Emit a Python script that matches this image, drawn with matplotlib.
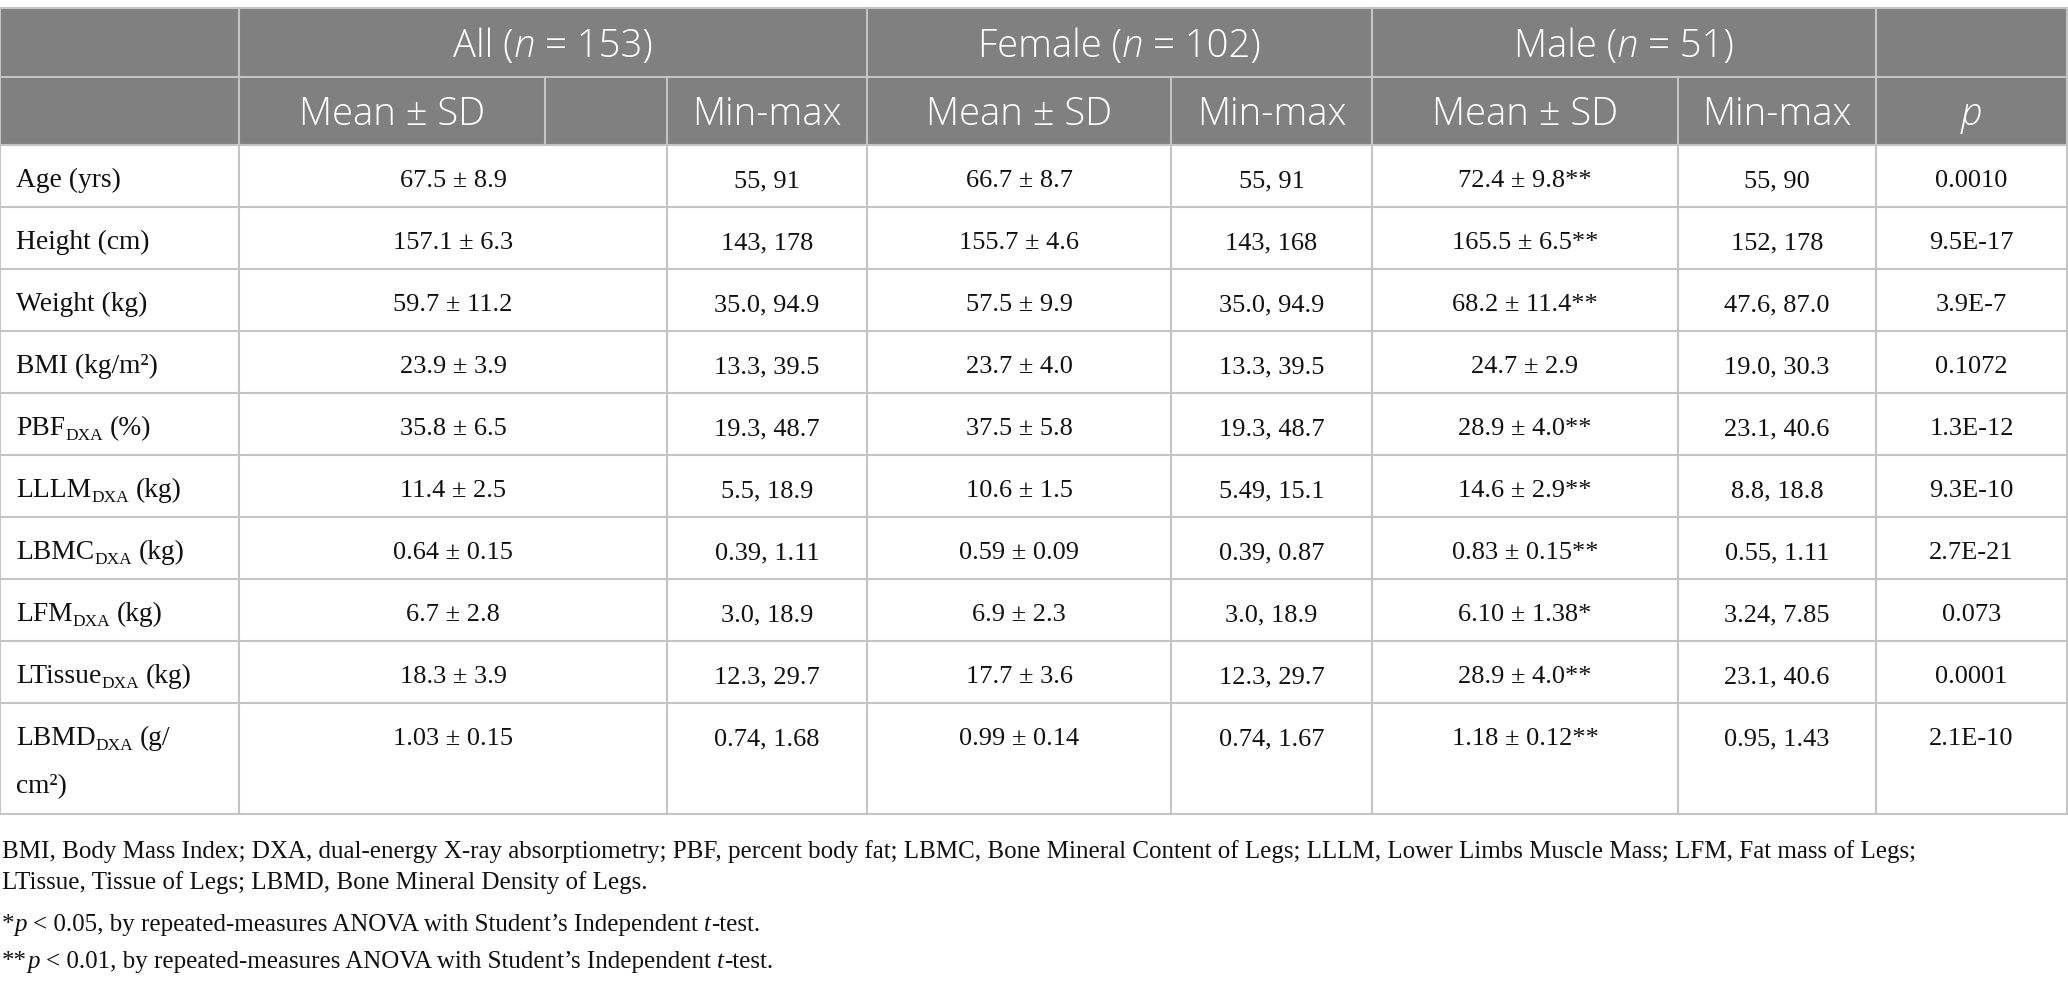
import matplotlib
matplotlib.use("Agg")
import matplotlib.pyplot as plt
from matplotlib.patches import Rectangle
from matplotlib.font_manager import FontProperties

W, H = 2068, 986

# ---------------- table content ----------------
groups = ["All", "Female", "Male"]
group_n = ["153", "102", "51"]
sub_heads = ["Mean ± SD", "Min-max"]

row_names = ["Age (yrs)", "Height (cm)", "Weight (kg)", "BMI (kg/m²)", "PBF",
             "LLLM", "LBMC", "LFM", "LTissue", "LBMD"]
row_subs = ["", "", "", "", "DXA", "DXA", "DXA", "DXA", "DXA", "DXA"]
row_units = ["", "", "", "", "(%)", "(kg)", "(kg)", "(kg)", "(kg)", "(g/\ncm²)"]

all_mean = ["67.5 ± 8.9", "157.1 ± 6.3", "59.7 ± 11.2", "23.9 ± 3.9", "35.8 ± 6.5",
            "11.4 ± 2.5", "0.64 ± 0.15", "6.7 ± 2.8", "18.3 ± 3.9", "1.03 ± 0.15"]
all_range = ["55, 91", "143, 178", "35.0, 94.9", "13.3, 39.5", "19.3, 48.7",
             "5.5, 18.9", "0.39, 1.11", "3.0, 18.9", "12.3, 29.7", "0.74, 1.68"]
fem_mean = ["66.7 ± 8.7", "155.7 ± 4.6", "57.5 ± 9.9", "23.7 ± 4.0", "37.5 ± 5.8",
            "10.6 ± 1.5", "0.59 ± 0.09", "6.9 ± 2.3", "17.7 ± 3.6", "0.99 ± 0.14"]
fem_range = ["55, 91", "143, 168", "35.0, 94.9", "13.3, 39.5", "19.3, 48.7",
             "5.49, 15.1", "0.39, 0.87", "3.0, 18.9", "12.3, 29.7", "0.74, 1.67"]
male_mean = ["72.4 ± 9.8**", "165.5 ± 6.5**", "68.2 ± 11.4**", "24.7 ± 2.9", "28.9 ± 4.0**",
             "14.6 ± 2.9**", "0.83 ± 0.15**", "6.10 ± 1.38*", "28.9 ± 4.0**", "1.18 ± 0.12**"]
male_range = ["55, 90", "152, 178", "47.6, 87.0", "19.0, 30.3", "23.1, 40.6",
              "8.8, 18.8", "0.55, 1.11", "3.24, 7.85", "23.1, 40.6", "0.95, 1.43"]
p_values = ["0.0010", "9.5E-17", "3.9E-7", "0.1072", "1.3E-12",
            "9.3E-10", "2.7E-21", "0.073", "0.0001", "2.1E-10"]

note_lines = [
    "BMI, Body Mass Index; DXA, dual-energy X-ray absorptiometry; PBF, percent body fat; "
    "LBMC, Bone Mineral Content of Legs; LLLM, Lower Limbs Muscle Mass; LFM, Fat mass of Legs;",
    "LTissue, Tissue of Legs; LBMD, Bone Mineral Density of Legs.",
]
sig_marks = ["*", "**"]
sig_levels = ["0.05", "0.01"]

# ---------------- layout (pixels) ----------------
col_x = [0, 239, 667, 867, 1171, 1372, 1678, 1876, 2067]   # data-row column edges
extra_hdr_x = 545                                           # divider only in header row 2
top = 8
hdr1_bot = 77
hdr2_bot = 145
row_h = [62] * 9 + [111]

hdr_bg = "#808080"
line_c = "#c4c4c4"
lw = 1.5

serif = "Liberation Serif"
label_fp = FontProperties(family=serif, size=19.8)
body_fp = FontProperties(family=serif, size=19)
sub_fp = FontProperties(family=serif, size=12.5)
note_fp = FontProperties(family=serif, size=18)
note_it = FontProperties(family=serif, style="italic", size=18)
head_fp = FontProperties(family="Open Sans", weight="light", size=27.5)
head_it = FontProperties(family="Open Sans", weight="light", style="italic", size=27.5)

fig = plt.figure(figsize=(W / 100, H / 100), dpi=100)
ax = fig.add_axes([0, 0, 1, 1])
ax.set_xlim(0, W)
ax.set_ylim(H, 0)
ax.axis("off")
renderer = fig.canvas.get_renderer()


def run_width(s, fp):
    # width of a string including its spaces
    a = ax.text(0, 0, "x" + s + "x", fontproperties=fp)
    b = ax.text(0, 0, "xx", fontproperties=fp)
    w = a.get_window_extent(renderer).width - b.get_window_extent(renderer).width
    a.remove()
    b.remove()
    return w


def draw_runs(x, y, runs, ha="left", color="#111111"):
    # runs: list of (text, fontprops, baseline shift)
    widths = [run_width(s, fp) for s, fp, dy in runs]
    x0 = x - sum(widths) / 2 if ha == "center" else x
    for (s, fp, dy), w in zip(runs, widths):
        lead = len(s) - len(s.lstrip())
        if s.strip():
            ax.text(x0 + (run_width(s[:lead], fp) if lead else 0), y + dy, s.strip(),
                    fontproperties=fp, color=color, va="baseline", ha="left")
        x0 += w


# header background
ax.add_patch(Rectangle((0, top), W, hdr2_bot - top, facecolor=hdr_bg, edgecolor="none"))

# horizontal rules
ys = [top, hdr1_bot, hdr2_bot]
for h in row_h:
    ys.append(ys[-1] + h)
for y in ys:
    ax.plot([0, col_x[-1]], [y, y], color=line_c, lw=lw, solid_capstyle="butt")

# vertical rules
bottom = ys[-1]
for x in [0, col_x[1], col_x[3], col_x[5], col_x[7], col_x[8]]:
    ax.plot([x, x], [top, hdr1_bot], color=line_c, lw=lw)
for x in col_x + [extra_hdr_x]:
    ax.plot([x, x], [hdr1_bot, hdr2_bot], color=line_c, lw=lw)
for x in col_x:
    ax.plot([x, x], [hdr2_bot, bottom], color=line_c, lw=lw)

# header row 1: group titles
spans = [(col_x[1], col_x[3]), (col_x[3], col_x[5]), (col_x[5], col_x[7])]
for g, n, (a, b) in zip(groups, group_n, spans):
    draw_runs((a + b) / 2, 57, [(g + " (", head_fp, 0), ("n", head_it, 0), (" = " + n + ")", head_fp, 0)],
              ha="center", color="white")

# header row 2: sub headings
sub_spans = [(col_x[1], extra_hdr_x), (col_x[2], col_x[3]),
             (col_x[3], col_x[4]), (col_x[4], col_x[5]),
             (col_x[5], col_x[6]), (col_x[6], col_x[7])]
for k, (a, b) in enumerate(sub_spans):
    draw_runs((a + b) / 2, 125, [(sub_heads[k % 2], head_fp, 0)], ha="center", color="white")
draw_runs((col_x[7] + col_x[8]) / 2, 125, [("p", head_it, 0)], ha="center", color="white")

# body rows
columns = [all_mean, all_range, fem_mean, fem_range, male_mean, male_range, p_values]
for i in range(len(row_names)):
    y0 = ys[2 + i]
    base = y0 + 42
    unit_lines = row_units[i].split("\n")
    runs = [(row_names[i], label_fp, 0)]
    if row_subs[i]:
        runs.append((row_subs[i], sub_fp, 5))
    if unit_lines[0]:
        runs.append((" " + unit_lines[0], label_fp, 0))
    draw_runs(16, base, runs)
    for extra, txt in enumerate(unit_lines[1:], start=1):
        draw_runs(16, base + 48 * extra, [(txt, label_fp, 0)])
    for c, vals in enumerate(columns):
        cx = (col_x[c + 1] + col_x[c + 2]) / 2
        draw_runs(cx, base, [(vals[i], body_fp, 0)], ha="center")

# footnotes
note_y = [858, 889, 931, 968]
for k, line in enumerate(note_lines):
    draw_runs(2, note_y[k], [(line, note_fp, 0)])
for k, (m, lv) in enumerate(zip(sig_marks, sig_levels)):
    draw_runs(2, note_y[2 + k], [(m, note_fp, 0), ("p", note_it, 0),
                                  (" < " + lv + ", by repeated-measures ANOVA with Student\u2019s Independent ", note_fp, 0),
                                  ("t", note_it, 0), ("-test.", note_fp, 0)])

fig.savefig("out.png", dpi=100, facecolor="white")
